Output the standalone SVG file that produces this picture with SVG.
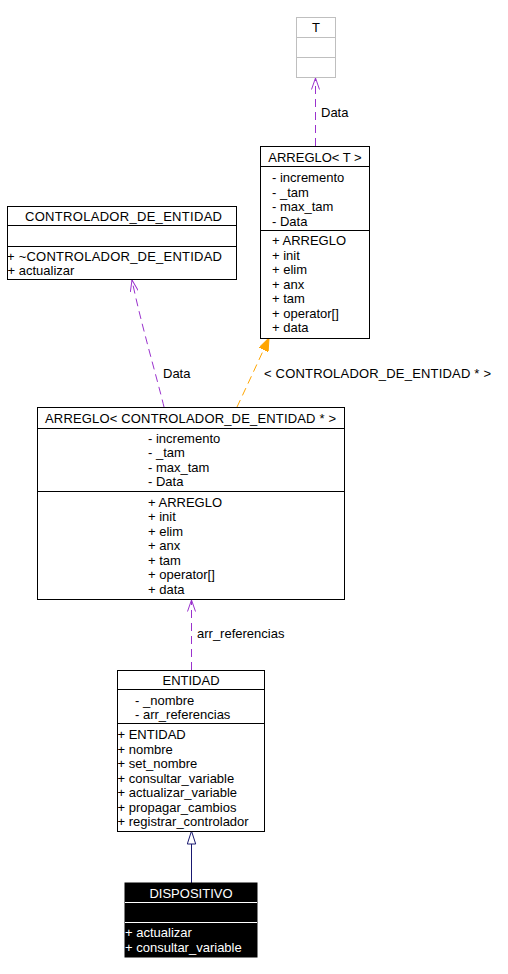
<svg xmlns="http://www.w3.org/2000/svg" width="508" height="974" viewBox="0 0 508 974">
<style>
text{font-family:"Liberation Sans",Arial,Helvetica,sans-serif;font-size:13px;fill:#000}
.c{text-anchor:middle}
.box{fill:#fff;stroke:#000;stroke-width:1}
.gbox{fill:#fff;stroke:#bfbfbf;stroke-width:1}
.div{stroke:#000;stroke-width:1}
.gdiv{stroke:#bfbfbf;stroke-width:1}
.dep{fill:none;stroke:#9a32cd;stroke-width:1;stroke-dasharray:8,5}
.tpl{fill:none;stroke:#ffa500;stroke-width:1;stroke-dasharray:8,5}
.inh{fill:none;stroke:#191970;stroke-width:1}
.dark{fill:#000;stroke:#000}
.w{fill:#fff}
</style>
<defs>
<marker id="vee" viewBox="0 0 12 9" refX="11.5" refY="4.5" markerWidth="12" markerHeight="9" markerUnits="userSpaceOnUse" orient="auto">
<path d="M0,0.5 L11.5,4.5 L0,8.5" fill="none" stroke="#9a32cd" stroke-width="1"/>
</marker>
<marker id="fill" viewBox="0 0 13 10" refX="13" refY="5" markerWidth="13" markerHeight="10" markerUnits="userSpaceOnUse" orient="auto">
<polygon points="0,0 13,5 0,10" fill="#ffa500" stroke="#ffa500"/>
</marker>
<marker id="tri" viewBox="0 0 14 10" refX="13.5" refY="5" markerWidth="14" markerHeight="10" markerUnits="userSpaceOnUse" orient="auto">
<polygon points="0.5,0.8 13.5,5 0.5,9.2" fill="#fff" stroke="#191970" stroke-width="1"/>
</marker>
</defs>

<g id="connectors">
<path class="dep" d="M315.5,146 L315.5,78" marker-end="url(#vee)"/>
<text x="321" y="117">Data</text>
<path class="dep" d="M164,407 C157,378 140,320 132,280" marker-end="url(#vee)"/>
<text x="163" y="378">Data</text>
<path class="tpl" d="M237,407 C246,388 258,362 269,338" marker-end="url(#fill)"/>
<text x="264" y="378" textLength="227" lengthAdjust="spacing">&lt; CONTROLADOR_DE_ENTIDAD * &gt;</text>
<path class="dep" d="M191.5,670 L191.5,600" marker-end="url(#vee)"/>
<text x="197" y="638">arr_referencias</text>
<path class="inh" d="M191.5,883 L191.5,831" marker-end="url(#tri)"/>
</g>

<g id="node-T">
<rect class="gbox" x="296.5" y="17.5" width="39" height="60"/>
<line class="gdiv" x1="296.5" y1="37.5" x2="335.5" y2="37.5"/>
<line class="gdiv" x1="296.5" y1="57.5" x2="335.5" y2="57.5"/>
<text class="c" x="316" y="32">T</text>
</g>

<g id="node-ARREGLO-T">
<rect class="box" x="260.5" y="146.5" width="109" height="192"/>
<line class="div" x1="260.5" y1="166.5" x2="369.5" y2="166.5"/>
<line class="div" x1="260.5" y1="230.5" x2="369.5" y2="230.5"/>
<text class="c" x="315" y="161.5">ARREGLO&lt; T &gt;</text>
<text x="272" y="182">- incremento</text>
<text x="272" y="196.5">- _tam</text>
<text x="272" y="211">- max_tam</text>
<text x="272" y="225.5">- Data</text>
<text x="272" y="245">+ ARREGLO</text>
<text x="272" y="259.5">+ init</text>
<text x="272" y="274">+ elim</text>
<text x="272" y="288.5">+ anx</text>
<text x="272" y="303">+ tam</text>
<text x="272" y="317.5">+ operator[]</text>
<text x="272" y="332">+ data</text>
</g>

<g id="node-CONTROLADOR_DE_ENTIDAD">
<rect class="box" x="7.5" y="206.5" width="229" height="73"/>
<line class="div" x1="7.5" y1="225.5" x2="236.5" y2="225.5"/>
<line class="div" x1="7.5" y1="246.5" x2="236.5" y2="246.5"/>
<text x="25" y="221" textLength="197" lengthAdjust="spacing">CONTROLADOR_DE_ENTIDAD</text>
<text x="7" y="261" textLength="215" lengthAdjust="spacing">+ ~CONTROLADOR_DE_ENTIDAD</text>
<text x="7.5" y="275">+ actualizar</text>
</g>

<g id="node-ARREGLO-CONTROLADOR">
<rect class="box" x="37.5" y="407.5" width="307" height="192"/>
<line class="div" x1="37.5" y1="428.5" x2="344.5" y2="428.5"/>
<line class="div" x1="37.5" y1="491.5" x2="344.5" y2="491.5"/>
<text x="45" y="423" textLength="291" lengthAdjust="spacing">ARREGLO&lt; CONTROLADOR_DE_ENTIDAD * &gt;</text>
<text x="148" y="442.5">- incremento</text>
<text x="148" y="457">- _tam</text>
<text x="148" y="471.5">- max_tam</text>
<text x="148" y="486">- Data</text>
<text x="148" y="506.5">+ ARREGLO</text>
<text x="148" y="521">+ init</text>
<text x="148" y="535.5">+ elim</text>
<text x="148" y="550">+ anx</text>
<text x="148" y="564.5">+ tam</text>
<text x="148" y="579">+ operator[]</text>
<text x="148" y="593.5">+ data</text>
</g>

<g id="node-ENTIDAD">
<rect class="box" x="117.5" y="670.5" width="147" height="161"/>
<line class="div" x1="117.5" y1="689.5" x2="264.5" y2="689.5"/>
<line class="div" x1="117.5" y1="723.5" x2="264.5" y2="723.5"/>
<text class="c" x="191" y="685">ENTIDAD</text>
<text x="135" y="704.5">- _nombre</text>
<text x="135" y="719">- arr_referencias</text>
<text x="117.5" y="739">+ ENTIDAD</text>
<text x="117.5" y="753.5">+ nombre</text>
<text x="117.5" y="768">+ set_nombre</text>
<text x="117.5" y="782.5">+ consultar_variable</text>
<text x="117.5" y="797">+ actualizar_variable</text>
<text x="117.5" y="811.5">+ propagar_cambios</text>
<text x="117.5" y="826">+ registrar_controlador</text>
</g>

<g id="node-DISPOSITIVO">
<rect class="dark" x="125" y="883" width="132" height="74"/>
<line x1="125" y1="902.5" x2="257" y2="902.5" stroke="#fff" stroke-width="1"/>
<line x1="125" y1="922.5" x2="257" y2="922.5" stroke="#fff" stroke-width="1"/>
<text class="c w" x="191" y="898">DISPOSITIVO</text>
<text class="w" x="125" y="937">+ actualizar</text>
<text class="w" x="125" y="952">+ consultar_variable</text>
</g>
</svg>
